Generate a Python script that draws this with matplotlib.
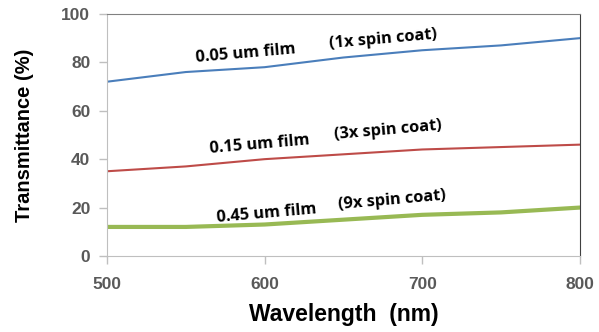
import numpy as np
import matplotlib.pyplot as plt

wavelength = [500, 550, 600, 650, 700, 750, 800]
film_005 = [72, 76, 78, 82, 85, 87, 90]
film_015 = [35, 37, 40, 42, 44, 45, 46]
film_045 = [12, 12, 13, 15, 17, 18, 20]

label_text = [('0.05 um film', 588, 83.5), ('(1x spin coat)', 675, 89.5),
              ('0.15 um film', 597, 46), ('(3x spin coat)', 678, 52),
              ('0.45 um film', 601, 17.5), ('(9x spin coat)', 681, 23)]

fig = plt.figure(figsize=(5.99, 3.32), dpi=100)
ax = fig.add_axes([0.1786, 0.229, 0.7894, 0.729])

ax.plot(wavelength, film_005, color='#4a7ebb', lw=1.5)
ax.plot(wavelength, film_015, color='#be4b48', lw=1.5)
ax.plot(wavelength, film_045, color='#98b954', lw=3)

for txt, x, y in label_text:
    ax.text(x, y, txt, ha='center', va='center', rotation=5,
            fontsize=11.8, fontweight='bold', family='Open Sans')

ax.set_xlim(500, 800)
ax.set_ylim(0, 100)
ax.set_xticks([500, 600, 700, 800])
ax.set_yticks(np.arange(0, 101, 20))
for lab in ax.get_xticklabels() + ax.get_yticklabels():
    lab.set_family('Liberation Sans')
    lab.set_fontweight('bold')
    lab.set_fontsize(12.5)
    lab.set_color('#595959')
ax.tick_params(axis='both', length=6, color='#bfbfbf', width=1)
ax.tick_params(axis='x', pad=9)
ax.tick_params(axis='y', pad=6)

ax.spines['left'].set_color('#bfbfbf')
ax.spines['bottom'].set_color('#bfbfbf')
ax.spines['top'].set_color('#808080')
ax.spines['right'].set_color('#404040')

ax.set_xlabel('Wavelength  (nm)', family='Liberation Sans', fontweight='bold', fontsize=16.5, labelpad=8)
ax.set_ylabel('Transmittance (%)', family='Liberation Sans', fontweight='bold', fontsize=14.5, labelpad=20)

fig.savefig('out.png', dpi=100)
